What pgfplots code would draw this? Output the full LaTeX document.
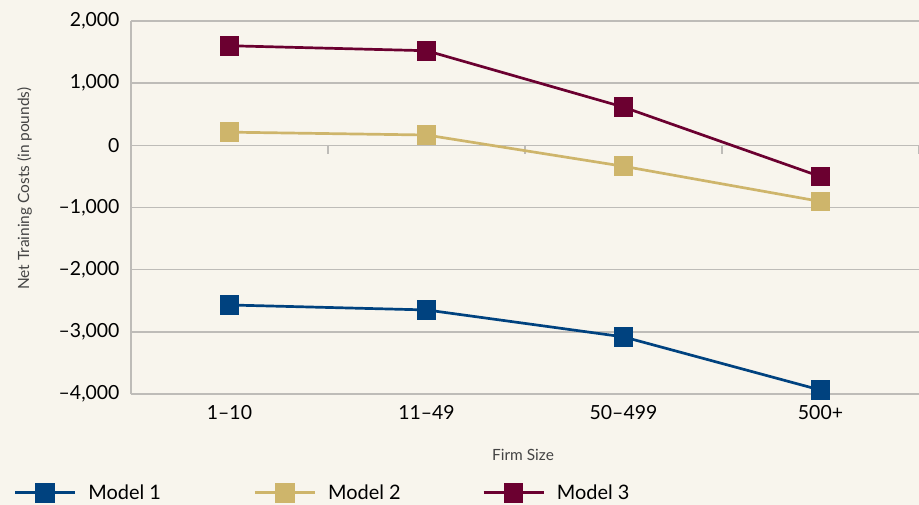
\documentclass[border=0pt]{standalone}
\usepackage{pgfplots}
\pgfplotsset{compat=1.18}
\usepackage{fontspec}
\setmainfont{Lato}
\definecolor{bg}{HTML}{F8F5ED}
\definecolor{gridc}{HTML}{BEBCB8}
\definecolor{mblue}{HTML}{00427F}
\definecolor{mtan}{HTML}{CEB56B}
\definecolor{mred}{HTML}{6B0030}
\definecolor{labc}{HTML}{444444}

\pgfplotstableread{
x y
0 -2568
1 -2648
2 -3081
3 -3937
}\modelone
\pgfplotstableread{
x y
0 212
1 166
2 -337
3 -903
}\modeltwo
\pgfplotstableread{
x y
0 1602
1 1522
2 615
3 -503
}\modelthree

\begin{document}
\begin{tikzpicture}
\fill[bg] (-131bp,-111bp) rectangle (788bp,394bp);
\begin{axis}[
  name=ax,
  at={(0,0)}, anchor=south west,
  scale only axis,
  width=788bp, height=373bp,
  xmin=-0.5, xmax=3.5,
  ymin=-4000, ymax=2000,
  axis line style={draw=none},
  xtick={0,1,2,3},
  xticklabels={1--10,11--49,50--499,500+},
  xtick style={draw=none},
  ytick={-4000,-3000,-2000,-1000,0,1000,2000},
  yticklabels={{--4,000},{--3,000},{--2,000},{--1,000},{0},{1,000},{2,000}},
  ytick style={draw=none},
  ymajorgrids,
  grid style={gridc, line width=1.5bp},
  ticklabel style={font=\fontsize{19.5}{22}\selectfont, text=black},
  yticklabel style={xshift=-8bp},
  xticklabel style={yshift=-8bp},
  xlabel={Firm Size},
  ylabel={Net Training Costs (in pounds)},
  label style={font=\fontsize{15.5}{18}\selectfont, text=labc},
  xlabel style={at={(axis description cs:0.4975,-0.164)}, anchor=center},
  ylabel style={at={(axis description cs:-0.135,0.55)}, anchor=center},
  clip=false,
  legend columns=-1,
  legend style={draw=none, fill=none, inner sep=0pt,
    at={(axis description cs:-0.149,-0.265)}, anchor=west,
    font=\fontsize{20}{22}\selectfont,
    /tikz/every odd column/.append style={column sep=10bp},
    /tikz/every even column/.append style={column sep=0bp}},
  legend image code/.code={\draw[mark repeat=2,mark phase=2,#1] plot coordinates {(0bp,0bp)(30bp,0bp)(60bp,0bp)};},
  every axis plot/.append style={line width=2.7bp, mark=square*, mark size=8.5bp, mark options={solid}},
]
% left axis line and x axis at zero
\draw[gridc, line width=1.5bp] (axis cs:-0.5,-4000) -- (axis cs:-0.5,2000);
\draw[gridc, line width=1.5bp] (axis cs:-0.5,0) -- (axis cs:3.5,0);
\draw[gridc, line width=1.5bp] (axis cs:0.5,0) -- ++(0bp,-9bp);
\draw[gridc, line width=1.5bp] (axis cs:1.5,0) -- ++(0bp,-9bp);
\draw[gridc, line width=1.5bp] (axis cs:2.5,0) -- ++(0bp,-9bp);
\draw[gridc, line width=1.5bp] (axis cs:3.5,0) -- ++(0bp,-9bp);
\addplot[mblue, mark options={fill=mblue, draw=mblue}] table {\modelone};
\addlegendentry{\makebox[163bp][l]{Model 1}}
\addplot[mtan, mark options={fill=mtan, draw=mtan}] table {\modeltwo};
\addlegendentry{\makebox[152bp][l]{Model 2}}
\addplot[mred, mark options={fill=mred, draw=mred}] table {\modelthree};
\addlegendentry{Model 3}
\end{axis}
\pgfresetboundingbox
\path (-131bp,-111bp) rectangle (788bp,394bp);
\end{tikzpicture}
\end{document}
